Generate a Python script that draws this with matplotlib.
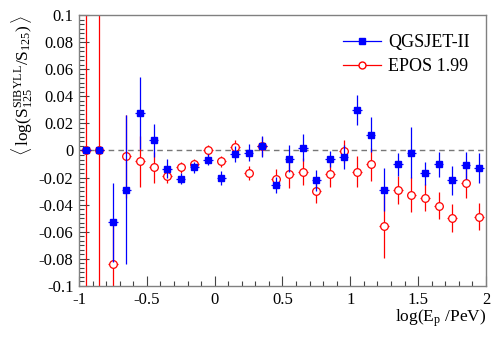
import matplotlib
matplotlib.use('Agg')
import matplotlib.pyplot as plt
import numpy as np
from matplotlib.ticker import MultipleLocator

plt.rcParams['font.family'] = ['Liberation Serif', 'DejaVu Serif']
plt.rcParams['mathtext.fontset'] = 'custom'
plt.rcParams['mathtext.rm'] = 'Liberation Serif'
plt.rcParams['mathtext.it'] = 'Liberation Serif:italic'

# bin centres of log(E_p/PeV)
log_e = [-0.95, -0.85, -0.75, -0.65, -0.55, -0.45, -0.35, -0.25, -0.15, -0.05,
         0.05, 0.15, 0.25, 0.35, 0.45, 0.55, 0.65, 0.75, 0.85, 0.95,
         1.05, 1.15, 1.25, 1.35, 1.45, 1.55, 1.65, 1.75, 1.85, 1.95]

# QGSJET-II
qgs_val = [0.0, 0.0, -0.053, -0.0288, 0.0276, 0.0074, -0.0133, -0.0209, -0.0125, -0.0067,
           -0.0202, -0.0025, -0.0015, 0.003, -0.0253, -0.0062, 0.002, -0.0221, -0.0064, -0.0049,
           0.030, 0.0118, -0.029, -0.0103, -0.0015, -0.0167, -0.0103, -0.022, -0.011, -0.013]
qgs_err = [0.0, 0.0, 0.029, 0.055, 0.0266, 0.0123, 0.007, 0.004, 0.004, 0.004,
           0.005, 0.006, 0.006, 0.008, 0.006, 0.010, 0.010, 0.008, 0.006, 0.009,
           0.011, 0.0128, 0.016, 0.0085, 0.019, 0.0085, 0.009, 0.0105, 0.010, 0.011]

# EPOS 1.99
epos_val = [0.0, 0.0, -0.084, -0.0042, -0.0081, -0.0125, -0.019, -0.0125, -0.0101, 0.0,
            -0.0079, 0.0025, -0.0167, 0.003, -0.0209, -0.0175, -0.0157, -0.030, -0.017, -0.0007,
            -0.0155, -0.0103, -0.056, -0.029, -0.0327, -0.0347, -0.0406, -0.0497, -0.0239, -0.049]
epos_err = [0.2, 0.2, 0.03, 0.0305, 0.019, 0.0113, 0.005, 0.004, 0.004, 0.004,
            0.004, 0.0055, 0.005, 0.007, 0.007, 0.010, 0.010, 0.0086, 0.010, 0.0085,
            0.0115, 0.012, 0.023, 0.0105, 0.013, 0.010, 0.010, 0.0105, 0.0113, 0.010]

fig = plt.figure(figsize=(4.98, 3.39), dpi=100)
ax = fig.add_axes([0.1586, 0.1563, 0.8173, 0.7995])

ax.axhline(0, color='#777777', ls='--', lw=1.0, dashes=(4, 3), zorder=1)

ax.errorbar(log_e, qgs_val, yerr=qgs_err, xerr=0.035, fmt='s', color='blue',
            ms=5, elinewidth=0.9, capsize=0, ls='none', zorder=3)
ax.errorbar(log_e, epos_val, yerr=epos_err, xerr=0.035, fmt='o', color='red',
            mfc='white', mec='red', mew=0.9, ms=5.5, elinewidth=0.9, capsize=0,
            ls='none', zorder=2)

# legend handles (line + marker)
h1, = ax.plot([], [], color='blue', marker='s', ms=5, lw=0.9)
h2, = ax.plot([], [], color='red', marker='o', ms=5.0, mfc='white', lw=0.9)
ax.legend([h1, h2], ['QGSJET-II', 'EPOS 1.99'], loc='upper right',
          bbox_to_anchor=(1.0, 0.99), frameon=False, fontsize=13,
          handlelength=2.1, handletextpad=0.4, labelspacing=0.4)

ax.set_xlim(-1, 2)
ax.set_ylim(-0.1, 0.1)
ax.xaxis.set_major_locator(MultipleLocator(0.5))
ax.xaxis.set_minor_locator(MultipleLocator(0.1))
ax.yaxis.set_major_locator(MultipleLocator(0.02))
ax.yaxis.set_minor_locator(MultipleLocator(0.02 / 6))

ax.set_xticks([-1, -0.5, 0, 0.5, 1, 1.5, 2])
ax.set_xticklabels(['-1', '-0.5', '0', '0.5', '1', '1.5', '2'])
ax.set_yticks([-0.1, -0.08, -0.06, -0.04, -0.02, 0, 0.02, 0.04, 0.06, 0.08, 0.1])
ax.set_yticklabels(['-0.1', '-0.08', '-0.06', '-0.04', '-0.02', '0',
                    '0.02', '0.04', '0.06', '0.08', '0.1'])

ax.tick_params(which='both', direction='in', top=False, right=False,
               labelsize=12, color='#444444')
ax.tick_params(which='major', length=7, width=0.8, pad=4)
ax.tick_params(which='minor', length=3.5, width=0.8)
for s in ax.spines.values():
    s.set_color('#808080')
    s.set_linewidth(1.0)

ax.set_xlabel(r'log(E$_{\mathrm{p}}$ /PeV)', fontsize=12.5, loc='right', labelpad=0)
ax.set_ylabel(r'$\langle\,\mathrm{log}(\mathrm{S}_{125}^{\mathrm{SIBYLL}}/\mathrm{S}_{125})\,\rangle$',
              fontsize=12.5, loc='top', labelpad=3)

fig.savefig('out.png', dpi=100)
